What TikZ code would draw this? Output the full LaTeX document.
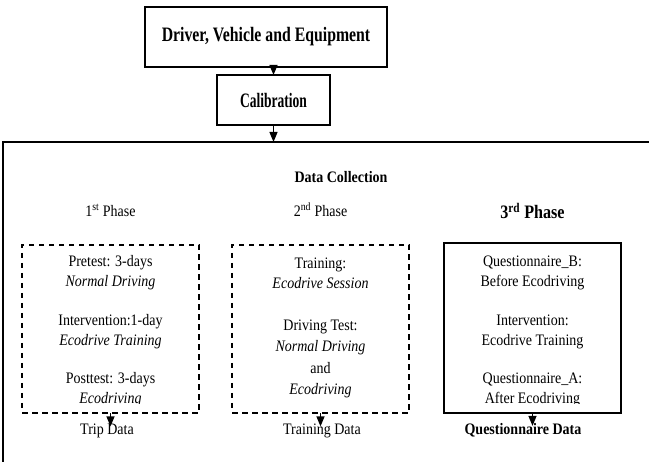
\documentclass[tikz,border=0pt]{standalone}
\usepackage{fontspec}
\setmainfont{Liberation Serif}[FakeStretch=0.875]
\newfontfamily\titlefont{Liberation Serif}[FakeStretch=0.77]
\newfontfamily\califont{Liberation Serif}[FakeStretch=0.66]
\newfontfamily\phasefont{Liberation Serif}[FakeStretch=0.85]
\usetikzlibrary{arrows.meta}
\begin{document}
\begin{tikzpicture}[x=1pt,y=-1pt,
  every node/.style={inner sep=0pt, outer sep=0pt},
  body/.style={font=\fontsize{16}{20}\selectfont, align=center},
  solidbox/.style={draw, line width=1.4pt},
  dashbox/.style={draw, line width=1.5pt, dash pattern=on 5.5pt off 4.5pt, minimum width=177pt, minimum height=168pt},
  thickbox/.style={draw, line width=2.8pt, minimum width=177pt, minimum height=170pt},
  arr/.style={line width=1.2pt, -{Triangle[length=10pt,width=8pt]}},
]
\useasboundingbox (0,0) rectangle (649,462);
\clip (0,0) rectangle (649,462);

\node[solidbox, minimum width=242pt, minimum height=60pt] (dve) at (266,37)
  {\titlefont\fontsize{20.5}{24}\selectfont\bfseries Driver, Vehicle and Equipment};
\node[solidbox, minimum width=113pt, minimum height=50pt] (cal) at (273.5,100)
  {\califont\fontsize{20.5}{24}\selectfont\bfseries Calibration};
\node[solidbox, line width=1.5pt, anchor=north west, minimum width=720pt, minimum height=420pt] (dc) at (3,142) {};

\draw[arr] (cal.north |- dve.south) -- (cal.north);
\draw[arr] (cal.south) -- (cal.south |- dc.north);

\node[body, font=\fontsize{16}{18}\selectfont\bfseries, anchor=base] (dct) at (341,183) {Data Collection};
\node[body, anchor=base] (p1) at (110.5,217) {1\textsuperscript{st} Phase};
\node[body, anchor=base] (p2) at (320.5,217) {2\textsuperscript{nd} Phase};
\node[font=\phasefont\fontsize{19}{20}\selectfont\bfseries, anchor=base] (p3) at (532.5,219) {3\textsuperscript{rd} Phase};

\node[dashbox] (b1) at (110.5,329) {};
\node[dashbox] (b2) at (320.5,329) {};
\node[thickbox] (b3) at (532.5,328) {};

\node[body] (g11) at (110.5,273) {Pretest: 3-days\\\textit{Normal Driving}};
\node[body] (g12) at (110.5,331.5) {Intervention:1-day\\\textit{Ecodrive Training}};
\node[body] (g21) at (320.5,273) {Training:\\\textit{Ecodrive Session}};
\node[body, font=\fontsize{16}{21.5}\selectfont] (g22) at (320.5,359) {Driving Test:\\\textit{Normal Driving}\\and\\\textit{Ecodriving}};
\node[body] (g31) at (532.5,273) {Questionnaire\_B:\\Before Ecodriving};
\node[body] (g32) at (532.5,332) {Intervention:\\Ecodrive Training};
\begin{scope}
  \clip (0,0) rectangle (649,404);
  \node[body] (g13) at (110.5,390) {Posttest: 3-days\\\textit{Ecodriving}};
  \node[body] (g33) at (532.5,389.5) {Questionnaire\_A:\\After Ecodriving};
\end{scope}

\node[body, anchor=base] (l1) at (107,435) {Trip Data};
\node[body, anchor=base] (l2) at (322,435) {Training Data};
\node[body, font=\fontsize{16}{18}\selectfont\bfseries, anchor=base] (l3) at (523,435) {Questionnaire Data};

\draw[arr, shorten >=-2pt] (b1.south) -- (b1.south |- l1.north);
\draw[arr, shorten >=-2pt] (b2.south) -- (b2.south |- l2.north);
\draw[arr, shorten >=-2pt] (b3.south) -- (b3.south |- l3.north);
\end{tikzpicture}
\end{document}
